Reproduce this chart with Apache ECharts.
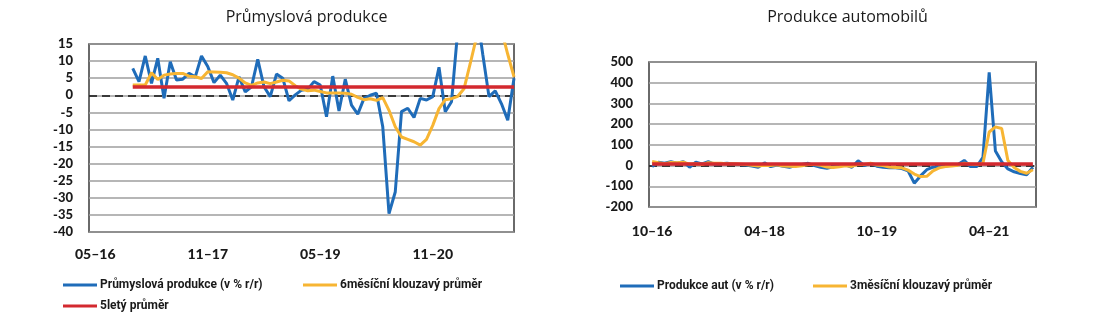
<!DOCTYPE html>
<html><head><meta charset="utf-8">
<script src="https://cdn.jsdelivr.net/npm/echarts@6/dist/echarts.min.js"></script>
<style>html,body{margin:0;padding:0;background:#fff}#c{width:1095px;height:332px}</style>
</head><body><div id="c"></div>
<script>
function months(y, m, n) {
  const out = [];
  for (let i = 0; i < n; i++) {
    const mm = ((m - 1 + i) % 12) + 1;
    const yy = y + Math.floor((m - 1 + i) / 12);
    out.push(String(mm).padStart(2, '0') + '–' + String(yy % 100).padStart(2, '0'));
  }
  return out;
}

// ---- Průmyslová produkce ----
const ipCategories = months(2016, 4, 69);
const ipTicks = ['05–16', '11–17', '05–19', '11–20'];
const ipStart = 7; // first month with data: 11–16
const ipValues = [7.9, 4.0, 11.5, 3.5, 10.8, -0.9, 9.8, 4.5, 4.7, 6.4,
  5.4, 11.5, 8.4, 3.7, 5.9, 3.5, -1.4, 5.4, 1.0, 2.5,
  10.5, 2.5, -0.4, 6.2, 5.0, -1.6, 0.1, 1.5, 1.8, 4.0,
  3.0, -6.3, 5.6, -4.6, 4.7, -2.9, -5.5, -0.9, 0.0, 0.6,
  -9.2, -34.6, -28.3, -4.8, -3.8, -6.5, -0.9, -1.4, -0.4, 8.2,
  -4.8, -1.9, 19, 50, 35, 25, 12, -0.4, 1.3, -2.5,
  -7.3, 5.0];
const ipMA6 = [3.0, 3.0, 3.0, 6.6, 4.6, 5.9, 6.2, 6.4, 6.4, 5.6,
  5.4, 4.9, 6.9, 6.8, 6.7, 6.6, 6.0, 5.0, 3.6, 2.9,
  3.6, 3.9, 3.4, 3.9, 4.4, 4.2, 2.8, 1.8, 1.3, 1.5,
  1.1, 0.7, 0.7, 0.7, 0.6, 0.3, -0.6, -1.3, -1.0, -1.5,
  -0.7, -4.4, -9.2, -12.2, -12.9, -13.6, -14.6, -12.9, -8.8, -3.9,
  -1.3, -1.0, -0.3, 1.9, 9.3, 17, 22, 24, 23, 19,
  12, 5.4];
const ipAvg5 = 2.4;

// ---- Produkce automobilů ----
const carCategories = months(2016, 10, 62);
const carTicks = ['10–16', '04–18', '10–19', '04–21'];
const carValues = [-5, 16, 11, 19, 11, 19, -8, 16, 8, 19,
  6, 9, 11, 8, 5, 3, -2, -8, 13, -5,
  3, -3, -8, 0, 5, 11, 0, -8, -13, -6,
  0, 3, -8, 23, 0, 11, -3, -8, -10, -10,
  -14, -25, -85, -50, -20, -8, -5, -2, 2, 5,
  25, -5, -5, 40, 450, 70, 18, -16, -30, -38,
  -44, -8];
const carMA3 = [20, 14, 9, 15, 14, 16, 7, 9, 5, 14,
  11, 11, 9, 9, 8, 5, 2, -2, 1, 0,
  4, -2, -3, -4, -1, 5, 5, 1, -7, -9,
  -6, -1, -4, 6, 5, 11, 3, 0, -7, -9,
  -11, -22, -41, -53, -52, -26, -11, -5, -2, 2,
  11, 8, 5, 10, 162, 187, 179, 24, -9, -28,
  -37, -20];
const carAvg5 = 7;

const BLUE = '#1F6CB9', ORANGE = '#F7B533', RED = '#D3292F';
const FONT = 'Lato';
const pad = (arr, n) => Array(n).fill(null).concat(arr);

const ipBlue = pad(ipValues, ipStart);
const ipOrange = pad(ipMA6, ipStart);
const ipRed = pad(ipValues.map(() => ipAvg5), ipStart);
const carRed = carValues.map(() => carAvg5);

const names = {
  ip: 'Průmyslová produkce (v % r/r)',
  ipMA: '6měsíční klouzavý průměr',
  ipAvg: '5letý průměr',
  car: 'Produkce aut (v % r/r)',
  carMA: '3měsíční klouzavý průměr',
  carAvg: '5letý průměr aut'
};

function yAxis(idx, min, max, interval) {
  return {
    type: 'value', gridIndex: idx, min, max, interval,
    axisLine: { show: false }, axisTick: { show: false },
    axisLabel: { margin: 16, fontFamily: FONT, fontWeight: 900, fontSize: 13, color: '#1a1a1a' },
    splitLine: { lineStyle: { color: '#9e9e9e', width: 1.5 } }
  };
}
function xAxis(idx, data, ticks, gap, margin) {
  return {
    type: 'category', gridIndex: idx, data, boundaryGap: gap,
    axisLine: { show: false }, axisTick: { show: false }, splitLine: { show: false },
    axisLabel: {
      interval: (i, v) => ticks.includes(v), margin,
      fontFamily: FONT, fontWeight: 900, fontSize: 14, color: '#1a1a1a'
    }
  };
}
const zeroLine = {
  silent: true, symbol: 'none', z: 1, label: { show: false },
  lineStyle: { color: '#111', type: [8, 5], width: 1.5 },
  data: [{ yAxis: 0 }]
};
function line(name, data, color, width, xi, extra) {
  return Object.assign({
    type: 'line', name, data, xAxisIndex: xi, yAxisIndex: xi,
    symbol: 'none', showSymbol: false, clip: true, animation: false,
    lineStyle: { color, width }, itemStyle: { color }
  }, extra || {});
}
function legend(name, left, top) {
  return {
    data: [name], left, top, padding: 0, itemGap: 0,
    itemWidth: 34, itemHeight: 3, icon: 'rect', selectedMode: false,
    textStyle: { fontFamily: 'Roboto', fontWeight: 'bold', fontSize: 12, color: '#1a1a1a', padding: [0, 0, 0, -2] }
  };
}

const chart = echarts.init(document.getElementById('c'), null, { renderer: 'canvas' });
chart.setOption({
  animation: false,
  backgroundColor: '#fff',
  title: [
    { text: 'Průmyslová produkce', left: 301.5, textAlign: 'center', top: 4,
      textStyle: { fontFamily: 'Open Sans', fontWeight: 'normal', fontSize: 16, color: '#1a1a1a' } },
    { text: 'Produkce automobilů', left: 842.5, textAlign: 'center', top: 4,
      textStyle: { fontFamily: 'Open Sans', fontWeight: 'normal', fontSize: 16, color: '#1a1a1a' } }
  ],
  grid: [
    { left: 89, top: 44, width: 425, height: 188, show: true, borderColor: '#3a3a3a', borderWidth: 1.5, backgroundColor: 'transparent' },
    { left: 649, top: 62, width: 387, height: 145, show: true, borderColor: '#3a3a3a', borderWidth: 1.5, backgroundColor: 'transparent' }
  ],
  xAxis: [
    xAxis(0, ipCategories, ipTicks, false, 15),
    xAxis(1, carCategories, carTicks, true, 17)
  ],
  yAxis: [yAxis(0, -40, 15, 5), yAxis(1, -200, 500, 100)],
  legend: [
    legend(names.ip, 63, 279),
    legend(names.ipMA, 303, 279),
    legend(names.ipAvg, 63, 300),
    legend(names.car, 620, 280),
    legend(names.carMA, 813, 280)
  ],
  series: [
    line(names.ip, ipBlue, BLUE, 3, 0, { markLine: zeroLine }),
    line(names.ipMA, ipOrange, ORANGE, 3, 0),
    line(names.ipAvg, ipRed, RED, 3.5, 0),
    line(names.car, carValues, BLUE, 3, 1, { markLine: zeroLine }),
    line(names.carMA, carMA3, ORANGE, 3, 1),
    line(names.carAvg, carRed, RED, 3.5, 1)
  ]
});
</script>
</body></html>
